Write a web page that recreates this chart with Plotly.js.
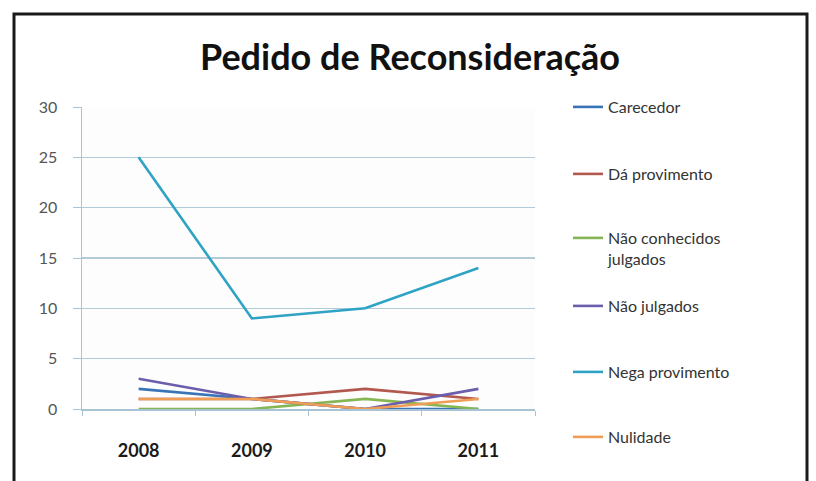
<!DOCTYPE html>
<html>
<head>
<meta charset="utf-8">
<script src="https://cdn.plot.ly/plotly-3.0.1.min.js"></script>
<style>html,body{margin:0;padding:0;background:#fff;}#chart{width:816px;height:481px;}</style>
</head>
<body>
<div id="chart"></div>
<script>
const years = ["2008", "2009", "2010", "2011"];
const seriesNames = ["Carecedor", "Dá provimento", "Não conhecidos<br>julgados", "Não julgados", "Nega provimento", "Nulidade"];
const carecedor = [2, 1, 0, 0];
const daProvimento = [1, 1, 2, 1];
const naoConhecidos = [0, 0, 1, 0];
const naoJulgados = [3, 1, 0, 2];
const negaProvimento = [25, 9, 10, 14];
const nulidade = [1, 1, 0, 1];
const yTicks = [0, 5, 10, 15, 20, 25, 30];

const values = [carecedor, daProvimento, naoConhecidos, naoJulgados, negaProvimento, nulidade];
const colors = ["#3a74b8", "#b2584e", "#86b553", "#6c5eac", "#2ea3c4", "#ef9d55"];
// legend item centre (pixels from top)
const legendCentres = [107, 174, 238, 306, 372, 437];
const legendKeys = values.map((v, i) => i === 0 ? "legend" : "legend" + (i + 1));

const traces = values.map((v, i) => ({
  x: years, y: v, name: seriesNames[i], type: "scatter", mode: "lines",
  line: {color: colors[i], width: 2.6},
  legend: legendKeys[i], showlegend: true
}));

const layout = {
  width: 816, height: 481, showlegend: true,
  paper_bgcolor: "#ffffff", plot_bgcolor: "#fdfdfe",
  margin: {l: 82, r: 281, t: 107, b: 72},
  title: {text: "Pedido de Reconsideração", font: {family: "Lato, 'Open Sans', sans-serif", size: 36, color: "#111", weight: "bold"},
          x: 410 / 816, xref: "container", xanchor: "center", y: 1 - 57 / 481, yref: "container", yanchor: "middle"},
  xaxis: {type: "category", range: [-0.5, 3.5], showgrid: false, showline: true, linecolor: "#a8c3d3", linewidth: 1.5,
          ticks: "outside", tickson: "boundaries", ticklen: 5, tickcolor: "#a8c3d3", ticklabelstandoff: 25,
          tickfont: {family: "Lato, 'Open Sans', sans-serif", size: 18, color: "#1a1a1a", weight: "bold"}, fixedrange: true},
  yaxis: {range: [0, 30], tickvals: yTicks, showgrid: true, gridcolor: "#b3cad8", gridwidth: 1.5,
          showline: true, linecolor: "#a8c3d3", linewidth: 1.5, zeroline: false,
          ticks: "outside", ticklen: 8, tickcolor: "#a8c3d3", ticklabelstandoff: 12,
          tickfont: {family: "Lato, 'Open Sans', sans-serif", size: 16, color: "#555"}, fixedrange: true},
  shapes: [{type: "rect", xref: "paper", yref: "paper",
            x0: (14 - 82) / 453, x1: (807 - 82) / 453, y0: -0.3, y1: (409 - 14) / 302,
            line: {color: "#1a1a1a", width: 3}, fillcolor: "rgba(0,0,0,0)", layer: "below"}]
};

legendCentres.forEach((c, i) => {
  layout[legendKeys[i]] = {
    x: 568 / 816, xref: "container", xanchor: "left",
    y: 1 - (c - 17) / 481, yref: "container", yanchor: "top",
    bgcolor: "rgba(0,0,0,0)", valign: "top",
    font: {family: "Lato, 'Open Sans', sans-serif", size: 16, color: "#333"},
    itemwidth: 30
  };
});

Plotly.newPlot("chart", traces, layout, {displayModeBar: false, staticPlot: true});
</script>
</body>
</html>
